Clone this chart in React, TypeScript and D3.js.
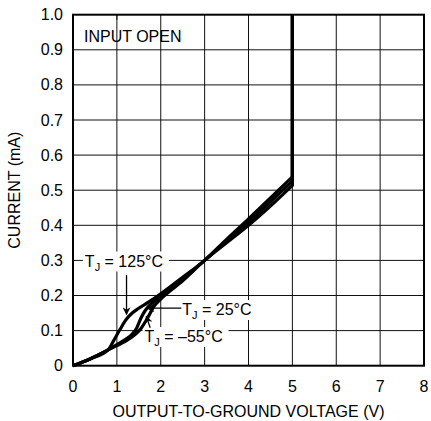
import React from "react";
import * as d3 from "d3";

const xTicks = [0, 1, 2, 3, 4, 5, 6, 7, 8];
const yTicks = [0, 0.1, 0.2, 0.3, 0.4, 0.5, 0.6, 0.7, 0.8, 0.9, 1.0];
const yTickLabels = ["0", "0.1", "0.2", "0.3", "0.4", "0.5", "0.6", "0.7", "0.8", "0.9", "1.0"];

const volts125 = [0, 0.4, 0.8, 0.92, 1.07, 1.22, 1.35, 1.49, 1.72, 2.0, 2.5, 3.0, 3.5, 4.0, 4.5, 5.0, 5.0];
const curr125 = [0, 0.02, 0.045, 0.07, 0.103, 0.133, 0.15, 0.163, 0.181, 0.205, 0.252, 0.3, 0.36, 0.418, 0.478, 0.538, 1.0];

const volts25 = [0, 0.4, 0.8, 1.0, 1.2, 1.35, 1.45, 1.55, 1.65, 1.8, 2.0, 2.5, 3.0, 3.5, 4.0, 4.5, 5.0, 5.0];
const curr25 = [0, 0.02, 0.045, 0.06, 0.075, 0.09, 0.107, 0.136, 0.158, 0.178, 0.197, 0.246, 0.3, 0.355, 0.408, 0.467, 0.526, 1.0];

const voltsM55 = [0, 0.4, 0.8, 1.0, 1.2, 1.4, 1.55, 1.7, 1.85, 2.0, 2.5, 3.0, 3.5, 4.0, 4.5, 5.0, 5.0];
const currM55 = [0, 0.02, 0.045, 0.057, 0.07, 0.087, 0.106, 0.136, 0.17, 0.19, 0.242, 0.3, 0.35, 0.4, 0.455, 0.514, 1.0];

const xLabel = "OUTPUT-TO-GROUND VOLTAGE (V)";
const yLabel = "CURRENT (mA)";
const note = "INPUT OPEN";

const W = 431;
const H = 421;
const L = 73, R = 424, T = 14.7, B = 365.7;
const FONT = "'Liberation Sans', Arial, sans-serif";

export default function App() {
  const x = d3.scaleLinear().domain([0, 8]).range([L, R]);
  const y = d3.scaleLinear().domain([0, 1]).range([B, T]);

  const curve = (vs: number[], cs: number[]) => {
    const pts: [number, number][] = vs.map((v, i) => [x(v), y(cs[i])]);
    const main = pts.slice(0, -1);
    const last = pts[pts.length - 1];
    const p = d3.line().curve(d3.curveMonotoneX)(main) || "";
    return p + `L${last[0]},${last[1]}`;
  };

  const series = [
    { v: volts125, c: curr125 },
    { v: volts25, c: curr25 },
    { v: voltsM55, c: currM55 },
  ];

  const fs = 16;

  const label = (tx: number, baseline: number, rest: string, w: number) => (
    <g>
      <rect x={tx - 2} y={baseline - 15} width={w + 4} height={20} fill="#fff" />
      <text x={tx} y={baseline} fontSize={fs} fontFamily={FONT} fill="#000">
        <tspan>T</tspan>
        <tspan dy={4} fontSize={11}>J</tspan>
        <tspan dy={-4}>{rest}</tspan>
      </text>
    </g>
  );

  return (
    <svg width={W} height={H} style={{ position: "absolute", left: 0, top: 0, background: "#fff" }}>
      <defs>
        <marker id="ah" viewBox="0 0 10 10" refX="9" refY="5" markerWidth="10" markerHeight="8" markerUnits="userSpaceOnUse" orient="auto">
          <path d="M0,0 L10,5 L0,10 L3,5 Z" fill="#000" />
        </marker>
      </defs>
      <rect x={0} y={0} width={W} height={H} fill="#fff" />
      {/* grid */}
      {xTicks.slice(1, -1).map((t) => (
        <line key={"gx" + t} x1={x(t)} x2={x(t)} y1={T} y2={B} stroke="#111" strokeWidth={1} />
      ))}
      {yTicks.slice(1, -1).map((t) => (
        <line key={"gy" + t} x1={L} x2={R} y1={y(t)} y2={y(t)} stroke="#111" strokeWidth={1} />
      ))}
      {/* note */}
      <rect x={L + 2} y={y(0.9) + 1} width={110} height={y(1) - y(0.9) - 2} fill="#fff" />
      <line x1={x(1)} x2={x(1)} y1={y(1)} y2={y(1) + 5} stroke="#111" strokeWidth={1} />
      <text x={84} y={41.5} fontSize={fs} fontFamily={FONT} fill="#000">{note}</text>
      {/* labels */}
      {label(x(0.27), 266.5, " = 125°C", 82)}
      {label(x(2.49), 315, " = 25°C", 71)}
      {label(x(1.63), 342, " = –55°C", 82)}
      {/* arrows */}
      <line x1={x(1.22)} x2={x(1.22)} y1={y(0.258)} y2={y(0.146)} stroke="#000" strokeWidth={1.3} markerEnd="url(#ah)" />
      <line x1={x(2.47)} x2={x(1.69)} y1={y(0.164)} y2={y(0.164)} stroke="#000" strokeWidth={1.3} markerEnd="url(#ah)" />
      <line x1={x(1.76)} x2={x(1.67)} y1={y(0.108)} y2={y(0.141)} stroke="#000" strokeWidth={1.3} markerEnd="url(#ah)" />
      {/* curves */}
      {series.map((s, i) => (
        <path key={i} d={curve(s.v, s.c)} fill="none" stroke="#000" strokeWidth={3.2} strokeLinejoin="round" />
      ))}
      {/* frame */}
      <rect x={L} y={T} width={R - L} height={B - T} fill="none" stroke="#000" strokeWidth={2} />
      {/* ticks labels */}
      {xTicks.map((t) => (
        <text key={"tx" + t} x={x(t)} y={392} textAnchor="middle" fontSize={fs} fontFamily={FONT} fill="#000">{t}</text>
      ))}
      {yTicks.map((t, i) => (
        <text key={"ty" + t} x={63} y={y(t) + 5.5} textAnchor="end" fontSize={fs} fontFamily={FONT} fill="#000">{yTickLabels[i]}</text>
      ))}
      <text x={(L + R) / 2} y={417} textAnchor="middle" fontSize={fs} fontFamily={FONT} fill="#000">{xLabel}</text>
      <text transform={`translate(20,${(T + B) / 2}) rotate(-90)`} textAnchor="middle" fontSize={fs} fontFamily={FONT} fill="#000">{yLabel}</text>
    </svg>
  );
}
